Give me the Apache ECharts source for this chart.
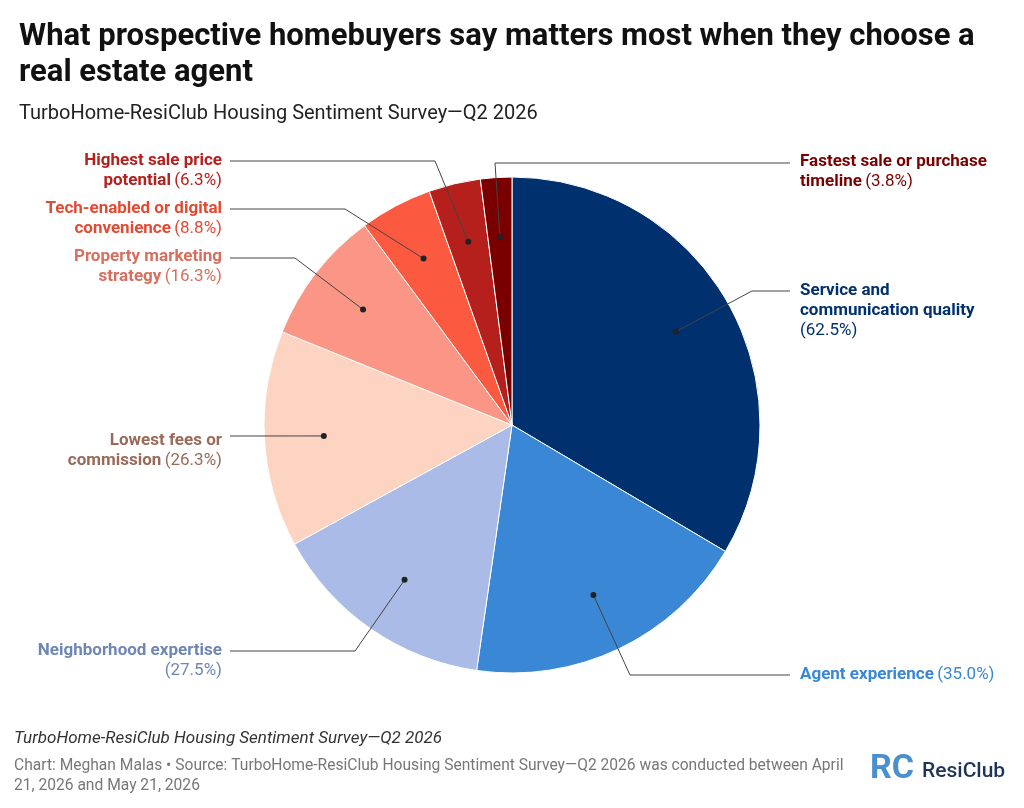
<!DOCTYPE html>
<html><head><meta charset="utf-8">
<script src="https://cdn.jsdelivr.net/npm/echarts@6/dist/echarts.min.js"></script>
<style>html,body{margin:0;padding:0;background:#fff}#c{width:1024px;height:808px}</style>
</head><body><div id="c"></div>
<script>
const categories = ["Service and\ncommunication quality","Agent experience","Neighborhood expertise","Lowest fees or\ncommission","Property marketing\nstrategy","Tech-enabled or digital\nconvenience","Highest sale price\npotential","Fastest sale or purchase\ntimeline"];
const values = [62.5,35.0,27.5,26.3,16.3,8.8,6.3,3.8];
const pctOnNewLine = [true,false,true,false,false,false,false,false];
const colors = ["#00306e","#3a87d6","#a9bbe6","#fdd3c1","#fb9585","#fb5a40","#b5201c","#7a0000"];
const textColors = ["#00306e","#3a87d6","#6f86b5","#9a6a58","#d66f5e","#e44a31","#b5201c","#7a0000"];
// layout: side, label center y, line y, elbow x
const layout = [["r",311,291,752],["r",675,675,630],["l",661,651,355],["l",451,436,null],["l",267,258,295],["l",219,209,345],["l",171,161,435],["r",172,163,495]];
const cx=512, cy=425, R=248;
const total = values.reduce((a,b)=>a+b,0);
const dots=[]; let cum=0;
values.forEach(v=>{const th=(90-360*(cum+v/2)/total)*Math.PI/180; dots.push([cx+0.76*R*Math.cos(th), cy-0.76*R*Math.sin(th)]); cum+=v;});
const lines = layout.map((L,i)=>{const d=dots[i];const endX=L[0]==='l'?230:790;return L[3]===null?[d,[endX,L[2]]]:[d,[L[3],L[2]],[endX,L[2]]];});
const rich={};
textColors.forEach((c,i)=>{rich['b'+i]={fontWeight:'bold',color:c,fontSize:17,lineHeight:20,fontFamily:'Roboto'};rich['p'+i]={color:c,fontSize:17,lineHeight:20,fontFamily:'Roboto'};});
const chart=echarts.init(document.getElementById('c'));
chart.setOption({
  title:[{text:'What prospective homebuyers say matters most when they choose a\nreal estate agent',left:14,top:14,textStyle:{fontSize:31,fontWeight:'bold',color:'#111',fontFamily:'Roboto',lineHeight:36}},
    {text:'TurboHome-ResiClub Housing Sentiment Survey—Q2 2026',left:14,top:99,textStyle:{fontSize:20,fontWeight:'normal',color:'#222',fontFamily:'Roboto'}}],
  graphic:[
    ...lines.map(p=>({type:'polyline',shape:{points:p},style:{stroke:'#444',lineWidth:1,fill:null},z:99})),
    ...dots.map(d=>({type:'circle',shape:{cx:d[0],cy:d[1],r:3},style:{fill:'#222'},z:100})),
    {type:'text',left:14,top:730,style:{text:'TurboHome-ResiClub Housing Sentiment Survey—Q2 2026',font:'italic 17px Roboto',fill:'#333'}},
    {type:'text',left:14,top:756,style:{text:'Chart: Meghan Malas • Source: TurboHome-ResiClub Housing Sentiment Survey—Q2 2026 was conducted between April\n21, 2026 and May 21, 2026',font:'15.6px Roboto',fill:'#777',lineHeight:20}},
    {type:'text',left:870,top:752,style:{text:'RC',font:'bold 34px Roboto',fill:'#4a8fd0'}},
    {type:'text',left:922,top:761,style:{text:'ResiClub',font:'500 21px Roboto',fill:'#1d3557'}}
  ],
  series:[{type:'pie',center:[cx,cy],radius:R,startAngle:90,clockwise:true,animation:false,
    itemStyle:{borderColor:'#fff',borderWidth:1},
    data:values.map((v,i)=>({value:v,name:categories[i],itemStyle:{color:colors[i]},
      label:{formatter:()=>{const ls=categories[i].split('\n').map(l=>'{b'+i+'|'+l+'}');const p='{p'+i+'|('+v.toFixed(1)+'%)}';return pctOnNewLine[i]?ls.join('\n')+'\n'+p:ls.join('\n')+' '+p;}}})),
    label:{show:true,position:'outside',rich:rich,align:'left'},
    labelLine:{show:false},
    labelLayout:function(p){const i=p.dataIndex;const L=layout[i];const left=L[0]==='l';
      return {x:left?222:800,y:L[1],align:left?'right':'left',verticalAlign:'middle'};}
  }]
});
</script></body></html>
